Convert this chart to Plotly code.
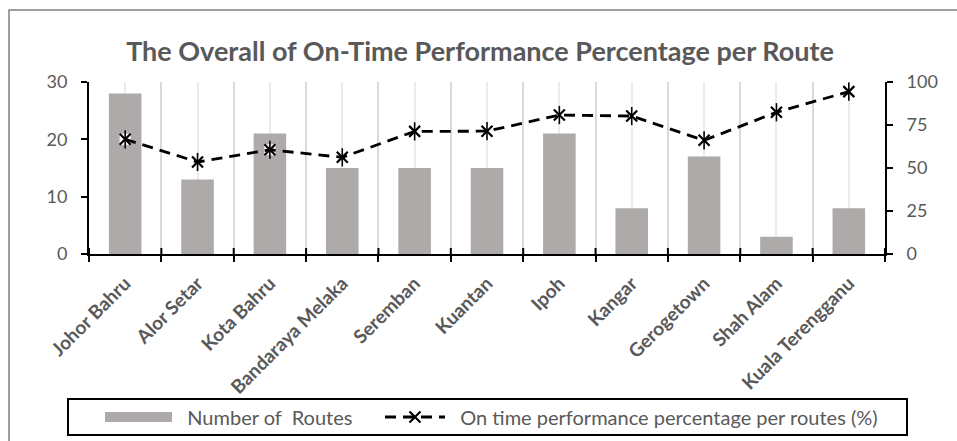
import plotly.graph_objects as go

# Route categories and their values
routes = ["Johor Bahru", "Alor Setar", "Kota Bahru", "Bandaraya Melaka", "Seremban",
          "Kuantan", "Ipoh", "Kangar", "Gerogetown", "Shah Alam", "Kuala Terengganu"]
num_routes = [28, 13, 21, 15, 15, 15, 21, 8, 17, 3, 8]
on_time_pct = [66.7, 53.5, 60.6, 56.2, 71.3, 71.4, 80.8, 80.2, 66.1, 82.4, 94.4]

left_ticks = [0, 10, 20, 30]
right_ticks = [0, 25, 50, 75, 100]

FONT = "Lato"
GREY_TXT = "#595959"
BAR_GREY = "#aeaaaa"
NB = "\u00a0"

# plot area in pixels
L, R, T, B = 89, 885, 82, 254
PW, PH = R - L, B - T

def px_x(p):
    return (p - L) / PW

def px_y(p):
    return (B - p) / PH

idx = list(range(len(routes)))
bounds = [i - 0.5 for i in range(len(routes) + 1)]

fig = go.Figure()

fig.add_trace(go.Bar(
    x=idx, y=num_routes, name="Number of  Routes", showlegend=False,
    marker=dict(color=BAR_GREY, line=dict(width=0)),
    width=0.45, yaxis="y",
))
# wide swatch for the bar series in the legend
fig.add_trace(go.Scatter(
    x=[None], y=[None], mode="lines", name=NB * 2 + "Number of" + NB * 2 + "Routes",
    line=dict(color=BAR_GREY, width=12), legend="legend",
))

# white backing behind the star markers
fig.add_trace(go.Scatter(
    x=idx, y=on_time_pct, yaxis="y2", mode="markers", showlegend=False,
    marker=dict(symbol="square", size=11, color="white", line=dict(width=0)),
    hoverinfo="skip",
))
fig.add_trace(go.Scatter(
    x=idx, y=on_time_pct, yaxis="y2", mode="lines+markers",
    name=NB * 2 + "On time performance percentage per routes (%)", legend="legend2",
    line=dict(color="black", width=2.8, dash="11px,7px"),
    marker=dict(symbol="x-thin-open", size=11, color="black", line=dict(width=2.2, color="black")),
))
fig.add_trace(go.Scatter(
    x=idx, y=on_time_pct, yaxis="y2", mode="markers", showlegend=False,
    marker=dict(symbol="line-ns-open", size=13, color="black", line=dict(width=1.6, color="black")),
    hoverinfo="skip",
))

shapes = []
# cross-style category tick marks on the category axis (upper half)
for b in bounds:
    shapes.append(dict(type="line", xref="x", yref="y domain", x0=b, x1=b, y0=0, y1=6 / PH,
                       line=dict(color="black", width=2)))
# chart outline
shapes.append(dict(type="rect", xref="paper", yref="paper",
                   x0=px_x(9), x1=1.2, y0=-1.5, y1=px_y(10),
                   line=dict(color="#7f7f7f", width=1.5), fillcolor="rgba(0,0,0,0)", layer="below"))
# legend frame
shapes.append(dict(type="rect", xref="paper", yref="paper",
                   x0=px_x(68), x1=px_x(907), y0=px_y(435), y1=px_y(399),
                   line=dict(color="black", width=2), fillcolor="rgba(0,0,0,0)"))

legend_font = dict(family=FONT, size=20, color=GREY_TXT)

fig.update_layout(
    width=957, height=441,
    margin=dict(l=L, r=957 - R, t=T, b=441 - B, autoexpand=False),
    paper_bgcolor="white", plot_bgcolor="white",
    font=dict(family=FONT, color=GREY_TXT),
    title=dict(text="<b>The Overall of On-Time Performance Percentage per Route</b>",
               x=px_x(480), xref="paper", xanchor="center",
               y=1 - 52 / 441, yref="container", yanchor="middle",
               font=dict(family=FONT, size=27, color=GREY_TXT)),
    xaxis=dict(
        range=[-0.5, len(routes) - 0.5],
        tickmode="array", tickvals=idx, ticktext=[f"<b>{r}</b>" for r in routes],
        tickangle=-45, tickfont=dict(size=19, color=GREY_TXT), ticklabelstandoff=9,
        ticks="", showgrid=True, gridcolor="#ececec", gridwidth=1.5,
        minor=dict(tickmode="array", tickvals=bounds, ticks="outside", ticklen=6,
                   tickcolor="black", tickwidth=2, showgrid=True, gridcolor="#d9d9d9", gridwidth=1.5),
        showline=True, linecolor="black", linewidth=2, zeroline=False, automargin=False,
    ),
    yaxis=dict(
        range=[0, 30], tickvals=left_ticks, showgrid=False, zeroline=False,
        showline=True, linecolor="black", linewidth=2,
        ticks="outside", ticklen=6, tickcolor="black", tickwidth=2,
        tickfont=dict(size=18, color=GREY_TXT), ticklabelstandoff=10, automargin=False,
    ),
    yaxis2=dict(
        range=[0, 100], tickvals=right_ticks, overlaying="y", side="right",
        showgrid=False, zeroline=False,
        showline=True, linecolor="black", linewidth=2,
        ticks="outside", ticklen=6, tickcolor="black", tickwidth=2,
        tickfont=dict(size=18, color=GREY_TXT), ticklabelstandoff=10, automargin=False,
    ),
    legend=dict(orientation="h", x=px_x(100), xanchor="left", y=px_y(417), yanchor="middle",
                borderwidth=0, bgcolor="rgba(0,0,0,0)", font=legend_font, itemwidth=67),
    legend2=dict(orientation="h", x=px_x(380), xanchor="left", y=px_y(417), yanchor="middle",
                 borderwidth=0, bgcolor="rgba(0,0,0,0)", font=legend_font, itemwidth=60),
    shapes=shapes,
    showlegend=True,
)

fig.write_html("out.html")
